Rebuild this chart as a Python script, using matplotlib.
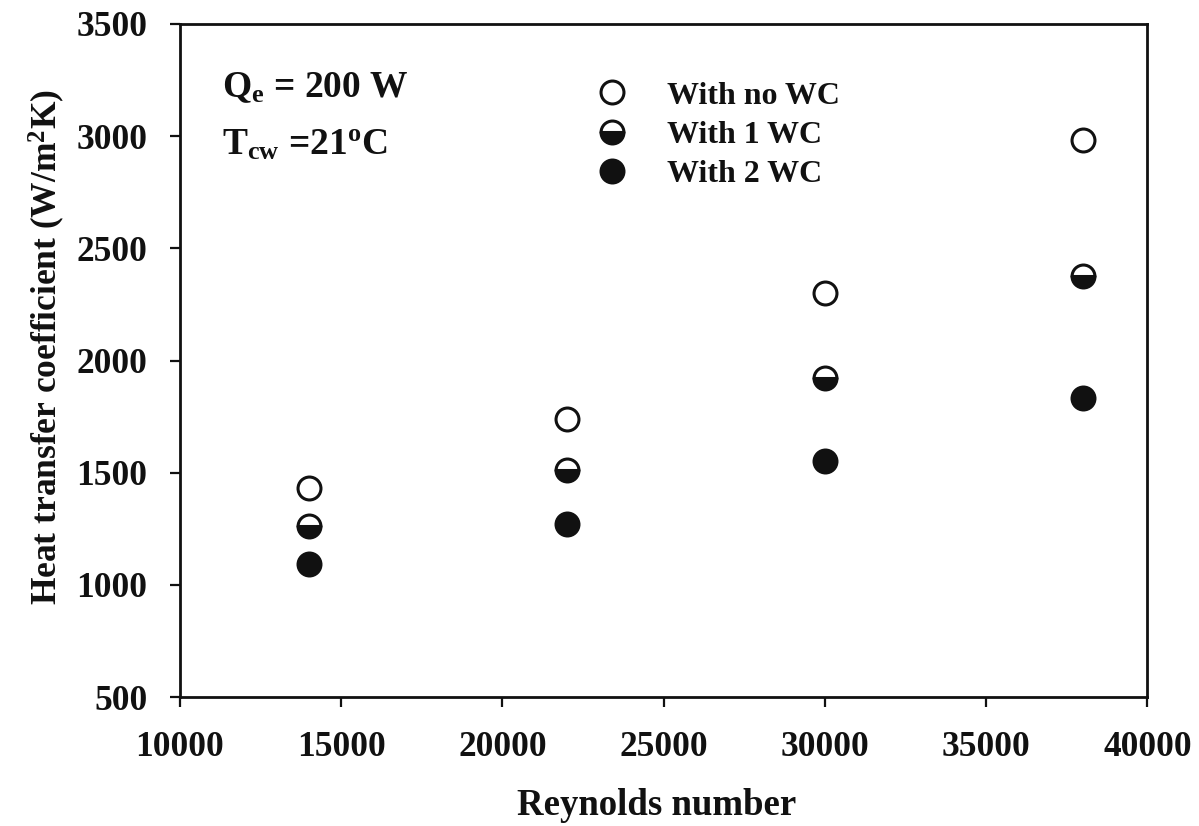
import matplotlib.pyplot as plt
from matplotlib.lines import Line2D

plt.rcParams['font.family'] = ['Liberation Serif', 'DejaVu Serif']
plt.rcParams['font.weight'] = 'bold'
plt.rcParams['mathtext.fontset'] = 'custom'
plt.rcParams['mathtext.rm'] = 'Liberation Serif:bold'
plt.rcParams['mathtext.it'] = 'Liberation Serif:bold'
plt.rcParams['mathtext.bf'] = 'Liberation Serif:bold'

reynolds = [14000, 22000, 30000, 38000]
h_no_wc = [1430, 1740, 2300, 2985]
h_1_wc = [1263, 1513, 1923, 2378]
h_2_wc = [1094, 1272, 1553, 1834]

dark = '#111111'

fig = plt.figure(figsize=(11.99, 8.26), dpi=100)
ax = fig.add_axes([0.150, 0.156, 0.807, 0.815])

ms = 16.5
mew = 2.2
ax.plot(reynolds, h_no_wc, 'o', ms=ms, mfc='white', mec=dark, mew=mew)
ax.plot(reynolds, h_1_wc, 'o', ms=ms, fillstyle='bottom', mfc=dark,
        mfcalt='white', mec=dark, mew=mew)
ax.plot(reynolds, h_2_wc, 'o', ms=ms, mfc=dark, mec=dark, mew=mew)

ax.set_xlim(10000, 40000)
ax.set_ylim(500, 3500)
ax.set_xticks(range(10000, 40001, 5000))
ax.set_yticks(range(500, 3501, 500))
ax.tick_params(direction='out', length=7.5, width=1.6, labelsize=25.5, colors=dark)
ax.tick_params(axis='y', pad=16)
ax.tick_params(axis='x', pad=17)
for s in ax.spines.values():
    s.set_linewidth(2.0)
    s.set_color(dark)

ax.set_xlabel('Reynolds number', fontsize=26.5, fontweight='bold', color=dark)
ax.set_ylabel('Heat transfer coefficient (W/m$^2$K)', fontsize=25.5,
              fontweight='bold', color=dark)
ax.xaxis.set_label_coords(0.493, -0.135)
ax.yaxis.set_label_coords(-0.117, 0.52)

ax.text(0.044, 0.891, r'Q$_\mathregular{e}$ = 200 W', transform=ax.transAxes,
        fontsize=27, fontweight='bold', va='baseline', color=dark)
ax.text(0.044, 0.806, r'T$_\mathregular{cw}$ =21$^\mathregular{o}$C',
        transform=ax.transAxes, fontsize=27, fontweight='bold', va='baseline',
        color=dark)

handles = [
    Line2D([], [], ls='none', marker='o', ms=ms, mfc='white', mec=dark, mew=mew),
    Line2D([], [], ls='none', marker='o', ms=ms, fillstyle='bottom', mfc=dark,
           mfcalt='white', mec=dark, mew=mew),
    Line2D([], [], ls='none', marker='o', ms=ms, mfc=dark, mec=dark, mew=mew),
]
leg = ax.legend(handles, ['With no WC', 'With 1 WC', 'With 2 WC'],
                loc='upper left', bbox_to_anchor=(0.430, 0.915), frameon=False,
                prop={'family': 'Liberation Serif', 'weight': 'bold', 'size': 23},
                handlelength=1.0, handletextpad=1.22, labelspacing=0.31,
                borderpad=0, borderaxespad=0)
for t in leg.get_texts():
    t.set_color(dark)

fig.savefig('out.png', dpi=100)
